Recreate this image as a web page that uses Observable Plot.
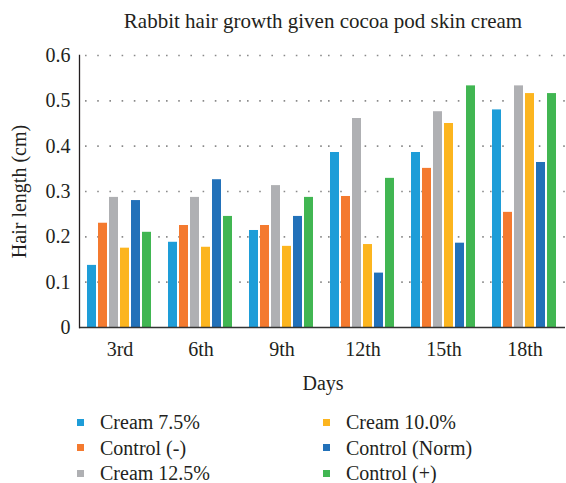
<!DOCTYPE html>
<html><head><meta charset="utf-8">
<script src="https://cdn.jsdelivr.net/npm/d3@7"></script>
<script src="https://cdn.jsdelivr.net/npm/@observablehq/plot@0.6"></script>
<style>
body{margin:0;background:#fff;font-family:"Liberation Serif",serif;color:#231f20}
#wrap{position:relative;width:566px;height:483px;overflow:hidden}
#title{position:absolute;left:0;width:646px;top:8px;text-align:center;font-size:21px;line-height:26px}
#days{position:absolute;left:0;width:646px;top:370px;text-align:center;font-size:20px;line-height:26px}
#chart{position:absolute;left:0;top:0}
#legend{position:absolute;left:0;top:409px;width:566px}
.li{position:absolute;display:flex;align-items:center;font-size:20px;line-height:26px;white-space:nowrap}
.sw{width:7px;height:7px;margin-right:16px}
</style></head><body>
<div id="wrap">
  <div id="chart"></div>
  <div id="title">Rabbit hair growth given cocoa pod skin cream</div>
  <div id="days">Days</div>
  <div id="legend"></div>
</div>
<script>
const days = ["3rd","6th","9th","12th","15th","18th"];
const series = ["Cream 7.5%","Control (-)","Cream 12.5%","Cream 10.0%","Control (Norm)","Control (+)"];
const colors = ["#1e9dd8","#f47a2f","#afb0b3","#fcb51f","#2271b9","#41b652"];
const cream75     = [0.137,0.188,0.214,0.386,0.386,0.480];
const controlNeg  = [0.230,0.225,0.225,0.289,0.351,0.254];
const cream125    = [0.287,0.287,0.313,0.461,0.476,0.533];
const cream100    = [0.175,0.177,0.179,0.183,0.450,0.516];
const controlNorm = [0.280,0.326,0.245,0.120,0.186,0.364];
const controlPos  = [0.210,0.245,0.287,0.329,0.533,0.516];
const yTicks = [0,0.1,0.2,0.3,0.4,0.5,0.6];
const gridTicks = [0.1,0.2,0.3,0.4,0.5,0.6];

const values = [cream75,controlNeg,cream125,cream100,controlNorm,controlPos];
const data = [];
days.forEach((d,i)=>series.forEach((s,j)=>data.push({day:d,series:s,value:values[j][i]})));

const chart = Plot.plot({
  width:566, height:400,
  marginTop:55, marginBottom:73, marginLeft:77, marginRight:0,
  style:{fontFamily:"'Liberation Serif', serif", fontSize:"20px", color:"#231f20", background:"transparent"},
  fx:{domain:days, padding:0, label:null},
  x:{domain:series, paddingInner:0.18, paddingOuter:0.76, axis:null},
  y:{domain:[0,0.6], label:null},
  color:{domain:series, range:colors},
  marks:[
    Plot.gridY({ticks:gridTicks, stroke:"#8a8a8a", strokeOpacity:1, strokeWidth:1.6, strokeDasharray:"1.6 10.6", strokeDashoffset:-6}),
    Plot.barY(data,{fx:"day", x:"series", y:"value", fill:"series"}),
    Plot.ruleY([0],{stroke:"#333", strokeWidth:1.6}),
    Plot.frame({anchor:"left", facetAnchor:"left", stroke:"#231f20", strokeWidth:1.3}),
    Plot.axisY({ticks:yTicks, tickSize:0, tickPadding:9, tickFormat:d=>d===0?"0":d.toFixed(1), fontSize:20, label:"Hair length (cm)", labelAnchor:"center", labelOffset:68, labelArrow:"none"}),
    Plot.axisFx({anchor:"bottom", tickSize:0, tickPadding:14, fontSize:20, label:null})
  ]
});
document.getElementById("chart").appendChild(chart);

const legend = document.getElementById("legend");
const cols = [77, 323];
series.forEach((s,i)=>{
  const col = Math.floor(i/3), row = i%3;
  const el = document.createElement("div");
  el.className="li";
  el.style.left = cols[col]+"px";
  el.style.top = (row*25.5)+"px";
  el.innerHTML = `<span class="sw" style="background:${colors[i]}"></span><span>${s}</span>`;
  legend.appendChild(el);
});
</script>
</body></html>
